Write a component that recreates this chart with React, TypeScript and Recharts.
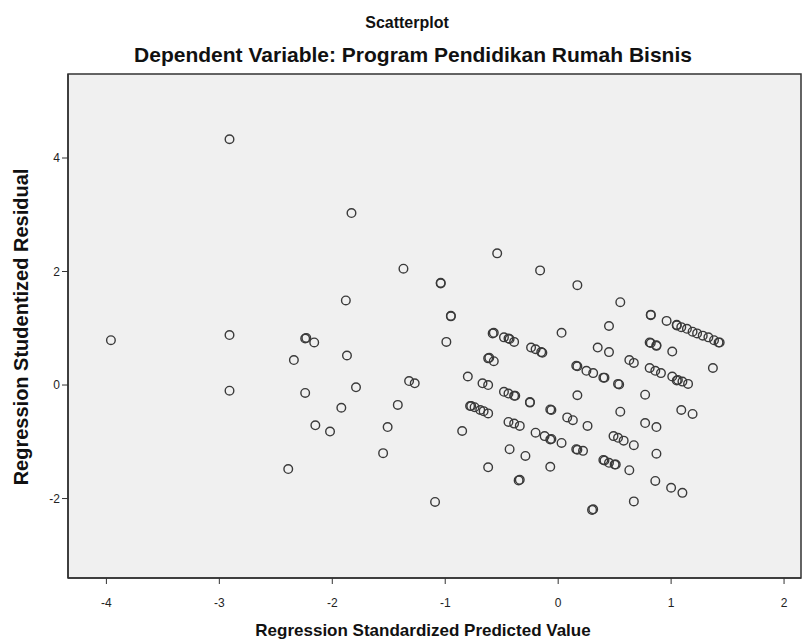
import React from "react";
import {
  ScatterChart,
  Scatter,
  XAxis,
  YAxis,
  CartesianGrid,
  ReferenceArea,
} from "recharts";

// values
const predicted = [
  -3.96, -2.91, -2.91, -2.91, -2.24, -2.23, -2.16, -2.34, -2.24, -2.15,
  -2.02, -1.92, -2.39, -1.88, -1.87, -1.79, -1.83, -1.42, -1.51, -1.55,
  -1.37, -1.32, -1.27, -1.09, -1.04, -1.04, -0.99, -0.95, -0.95, -0.85,
  -0.8, -0.78, -0.77, -0.74, -0.69, -0.66, -0.62, -0.67, -0.62, -0.62,
  -0.61, -0.57, -0.62, -0.58, -0.57, -0.54, -0.48, -0.44, -0.39, -0.38,
  -0.48, -0.44, -0.43, -0.39, -0.44, -0.39, -0.34, -0.43, -0.35, -0.34,
  -0.29, -0.25, -0.25, -0.24, -0.2, -0.15, -0.14, -0.16, -0.2, -0.12,
  -0.07, -0.06, 0.03, -0.07, -0.06, -0.07, 0.03, 0.08, 0.13, 0.16,
  0.17, 0.25, 0.31, 0.4, 0.41, 0.17, 0.17, 0.16, 0.17, 0.22,
  0.26, 0.31, 0.3, 0.35, 0.45, 0.45, 0.55, 0.53, 0.54, 0.55,
  0.49, 0.53, 0.58, 0.67, 0.4, 0.41, 0.45, 0.5, 0.51, 0.63,
  0.67, 0.63, 0.67, 0.77, 0.77, 0.87, 0.82, 0.82, 0.96, 1.05,
  1.05, 1.09, 1.14, 1.19, 1.23, 1.28, 1.33, 1.38, 1.43, 1.42,
  0.81, 0.82, 0.87, 0.87, 1.01, 1.37, 0.81, 0.86, 0.91, 1.01,
  1.06, 1.05, 1.1, 1.15, 1.09, 1.19, 0.87, 0.86, 1.0, 1.1,
];

const residual = [
  0.79, 4.33, 0.88, -0.1, 0.82, 0.83, 0.75, 0.44, -0.14, -0.71,
  -0.82, -0.4, -1.48, 1.49, 0.52, -0.04, 3.03, -0.35, -0.74, -1.2,
  2.05, 0.07, 0.03, -2.06, 1.79, 1.8, 0.76, 1.22, 1.21, -0.81,
  0.15, -0.37, -0.37, -0.39, -0.44, -0.46, -0.5, 0.03, 0.0, 0.47,
  0.48, 0.42, -1.45, 0.91, 0.92, 2.32, -0.12, -0.15, -0.19, -0.19,
  0.84, 0.82, 0.81, 0.76, -0.65, -0.68, -0.72, -1.13, -1.68, -1.67,
  -1.25, -0.31, -0.3, 0.66, 0.63, 0.58, 0.57, 2.02, -0.84, -0.9,
  -0.96, -0.95, -1.02, -0.43, -0.44, -1.44, 0.92, -0.57, -0.62, 0.34,
  0.33, 0.25, 0.21, 0.13, 0.13, -0.18, 1.76, -1.13, -1.14, -1.16,
  -0.72, -2.19, -2.2, 0.66, 0.58, 1.04, 1.46, 0.02, 0.01, -0.47,
  -0.9, -0.93, -0.98, -1.06, -1.32, -1.33, -1.37, -1.4, -1.4, -1.5,
  -2.05, 0.44, 0.39, -0.17, -0.67, -0.74, 1.24, 1.23, 1.13, 1.06,
  1.05, 1.02, 0.99, 0.94, 0.91, 0.87, 0.84, 0.79, 0.75, 0.75,
  0.75, 0.74, 0.7, 0.69, 0.59, 0.3, 0.3, 0.25, 0.21, 0.15,
  0.09, 0.08, 0.06, 0.02, -0.44, -0.51, -1.21, -1.69, -1.81, -1.9,
];

const xTicks = [-4, -3, -2, -1, 0, 1, 2];
const yTicks = [-2, 0, 2, 4];

const xDomain: [number, number] = [-4.34, 2.15];
const yDomain: [number, number] = [-3.4, 5.48];

const points = predicted.map((x, i) => ({ x, y: residual[i] }));

const FONT = "'Liberation Sans', Arial, sans-serif";

function Ring(props: any) {
  const { cx, cy } = props;
  if (cx == null || cy == null) return null;
  return (
    <circle cx={cx} cy={cy} r={4.3} fill="none" stroke="#3a3a3a" strokeWidth={1.4} />
  );
}

export default function App() {
  return (
    <div style={{ position: "absolute", left: 0, top: 0, width: 812, height: 642, background: "#fff" }}>
      <ScatterChart
        width={812}
        height={642}
        margin={{ top: 74, right: 11, bottom: 0, left: 0 }}
      >
        <CartesianGrid fill="#f0f0f0" horizontal={false} vertical={false} />
        <XAxis
          type="number"
          dataKey="x"
          domain={xDomain}
          ticks={xTicks}
          height={64}
          allowDataOverflow
          axisLine={{ stroke: "#333", strokeWidth: 1.5 }}
          tickLine={{ stroke: "#333" }}
          tickSize={6}
          tickMargin={14}
          tick={{ fill: "#222", fontSize: 12, fontFamily: FONT }}
        />
        <YAxis
          type="number"
          dataKey="y"
          domain={yDomain}
          ticks={yTicks}
          width={68}
          allowDataOverflow
          axisLine={{ stroke: "#333", strokeWidth: 1.5 }}
          tickLine={{ stroke: "#333" }}
          tickSize={6}
          tick={{ fill: "#222", fontSize: 12, fontFamily: FONT }}
        />
        <ReferenceArea
          x1={xDomain[0]}
          x2={xDomain[1]}
          y1={yDomain[0]}
          y2={yDomain[1]}
          fill="none"
          stroke="#333"
          strokeWidth={1.5}
        />
        <Scatter data={points} shape={<Ring />} isAnimationActive={false} />
      </ScatterChart>
      <svg
        width={812}
        height={642}
        style={{ position: "absolute", left: 0, top: 0, pointerEvents: "none" }}
        fontFamily={FONT}
        fontWeight="bold"
        fill="#111"
      >
        <text x={407} y={28} textAnchor="middle" fontSize={16}>
          Scatterplot
        </text>
        <text x={413} y={62} textAnchor="middle" fontSize={21}>
          Dependent Variable: Program Pendidikan Rumah Bisnis
        </text>
        <text x={423} y={636} textAnchor="middle" fontSize={17}>
          Regression Standardized Predicted Value
        </text>
        <text
          x={0}
          y={0}
          transform="translate(28,327) rotate(-90)"
          textAnchor="middle"
          fontSize={20}
        >
          Regression Studentized Residual
        </text>
      </svg>
    </div>
  );
}
